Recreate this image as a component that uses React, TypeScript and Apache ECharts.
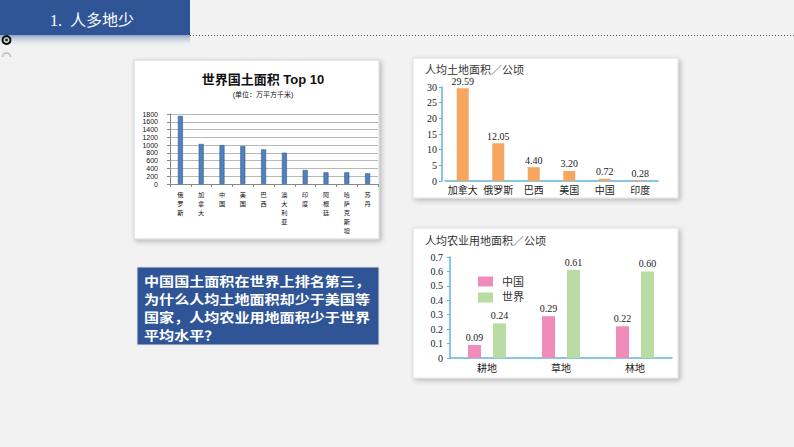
import React, { useEffect, useRef } from 'react';
import * as echarts from 'echarts';

const areaCountries = ['俄罗斯', '加拿大', '中国', '美国', '巴西', '澳大利亚', '印度', '阿根廷', '哈萨克斯坦', '苏丹'];
const areaValues = [1750, 1030, 1000, 975, 890, 805, 360, 300, 300, 275];
const areaTicks = { min: 0, max: 1800, interval: 200 };

const perCapitaCountries = ['加拿大', '俄罗斯', '巴西', '美国', '中国', '印度'];
const perCapitaValues = [29.59, 12.05, 4.4, 3.2, 0.72, 0.28];
const perCapitaTicks = { min: 0, max: 30, interval: 5 };

const landTypes = ['耕地', '草地', '林地'];
const chinaValues = [0.09, 0.29, 0.22];
const worldValues = [0.24, 0.61, 0.6];
const agriTicks = { min: 0, max: 0.7, interval: 0.1 };

const questionLines = [
  '中国国土面积在世界上排名第三，',
  '为什么人均土地面积却少于美国等',
  '国家，人均农业用地面积少于世界',
  '平均水平？',
];

const SERIF = '"Liberation Serif", "DejaVu Serif", "Noto Sans CJK SC", serif';
const SANS = '"Liberation Sans", "Noto Sans CJK SC", sans-serif';
const BLUE = '#2f5597';
const AXIS_BLUE = '#62b4d8';

export default function App() {
  const ref = useRef<HTMLDivElement>(null);
  useEffect(() => {
    const chart = echarts.init(ref.current!, null, { renderer: 'svg' });
    const panelShadow = { shadowBlur: 5, shadowColor: 'rgba(0,0,0,0.25)', shadowOffsetX: 2, shadowOffsetY: 2 };
    const graphic: any[] = [
      { type: 'rect', z: -10, shape: { x: 0, y: 0, width: 190, height: 35 }, style: { fill: BLUE } },
      {
        type: 'rect', z: -10, shape: { x: 0, y: 35, width: 190, height: 12 },
        style: {
          fill: new echarts.graphic.LinearGradient(0, 0, 0, 1, [
            { offset: 0, color: 'rgba(47,85,151,0.5)' },
            { offset: 1, color: 'rgba(242,242,242,0)' },
          ]),
        },
      },
      {
        type: 'text', x: 50, y: 20,
        style: { text: '1.  人多地少', fill: '#ffffff', fontSize: 16, fontFamily: SERIF, verticalAlign: 'middle' },
      },
      { type: 'line', shape: { x1: 190, y1: 35.5, x2: 794, y2: 35.5 }, style: { stroke: '#555', lineWidth: 1, lineDash: [1, 2] } },
      { type: 'circle', shape: { cx: 6.5, cy: 40, r: 4 }, style: { fill: 'none', stroke: '#111', lineWidth: 2 } },
      { type: 'circle', shape: { cx: 6.5, cy: 40, r: 1.3 }, style: { fill: '#111' } },
      { type: 'arc', shape: { cx: 6.5, cy: 57, r: 4, startAngle: Math.PI, endAngle: Math.PI * 2 }, style: { fill: 'none', stroke: '#bbb', lineWidth: 1.5 } },
      // panels
      { type: 'rect', z: -5, shape: { x: 134, y: 60, width: 245, height: 179 }, style: { fill: '#fff', stroke: '#d4d4d4', lineWidth: 1, ...panelShadow } },
      { type: 'rect', z: -5, shape: { x: 413, y: 58, width: 265, height: 140 }, style: { fill: '#fff', stroke: '#e0e0e0', lineWidth: 1, ...panelShadow } },
      { type: 'rect', z: -5, shape: { x: 413, y: 228, width: 265, height: 150 }, style: { fill: '#fff', stroke: '#e0e0e0', lineWidth: 1, ...panelShadow } },
      // question box
      { type: 'rect', z: -5, shape: { x: 137, y: 267, width: 242, height: 78 }, style: { fill: BLUE, stroke: '#e6e6e6', lineWidth: 1 } },
      // chart titles
      {
        type: 'text', x: 263, y: 79,
        style: { text: '世界国土面积 Top 10', fill: '#111', fontSize: 13, fontWeight: 'bold', fontFamily: SANS, align: 'center', verticalAlign: 'middle' },
      },
      {
        type: 'text', x: 263, y: 94,
        style: { text: '(单位：万平方千米)', fill: '#111', fontSize: 7, fontFamily: SANS, align: 'center', verticalAlign: 'middle' },
      },
      {
        type: 'text', x: 425, y: 70,
        style: { text: '人均土地面积／公顷', fill: '#333', fontSize: 11, fontFamily: SERIF, verticalAlign: 'middle' },
      },
      {
        type: 'text', x: 425, y: 241,
        style: { text: '人均农业用地面积／公顷', fill: '#333', fontSize: 11, fontFamily: SERIF, verticalAlign: 'middle' },
      },
    ];
    questionLines.forEach((line, i) => {
      graphic.push({
        type: 'text', x: 144, y: 280 + i * 18, scaleX: 1.16,
        style: {
          text: line, fill: '#fff', fontSize: 13, fontWeight: 'bold',
          fontFamily: '"Noto Sans CJK SC", sans-serif', verticalAlign: 'middle',
        },
      });
    });

    const serifLabel = { fontFamily: SERIF, fontSize: 10, color: '#222' };

    chart.setOption({
      animation: false,
      backgroundColor: '#f2f2f2',
      graphic,
      legend: {
        data: ['中国', '世界'],
        orient: 'vertical',
        left: 473,
        top: 271,
        itemWidth: 15,
        itemHeight: 10,
        itemGap: 5,
        icon: 'rect',
        textStyle: { fontSize: 11, fontFamily: SERIF, color: '#333', padding: [0, 0, 0, 4] },
      },
      grid: [
        { left: 170, top: 114, width: 208, height: 70 },
        { left: 445, top: 87, width: 213, height: 94 },
        { left: 450, top: 257, width: 222, height: 101 },
      ],
      xAxis: [
        {
          type: 'category', gridIndex: 0, data: areaCountries,
          axisLine: { lineStyle: { color: '#888' } },
          axisTick: { show: true, length: 3, lineStyle: { color: '#888' } },
          axisLabel: {
            interval: 0, fontSize: 6.2, lineHeight: 9, color: '#111', margin: 6,
            fontFamily: '"Noto Sans CJK SC", sans-serif',
            formatter: (v: string) => v.split('').join('\n'),
          },
        },
        {
          type: 'category', gridIndex: 1, data: perCapitaCountries,
          axisLine: { lineStyle: { color: AXIS_BLUE, width: 1.5 } },
          axisTick: { show: false },
          axisLabel: { ...serifLabel, interval: 0, margin: 4 },
        },
        {
          type: 'category', gridIndex: 2, data: landTypes,
          axisLine: { lineStyle: { color: AXIS_BLUE, width: 1.5 } },
          axisTick: { show: false },
          axisLabel: { ...serifLabel, interval: 0, margin: 5 },
        },
      ],
      yAxis: [
        {
          type: 'value', gridIndex: 0, ...areaTicks,
          axisLine: { show: true, lineStyle: { color: '#888' } },
          axisTick: { show: true, length: 3, lineStyle: { color: '#888' } },
          splitLine: { lineStyle: { color: '#a6a6a6', width: 0.8 } },
          axisLabel: { fontSize: 7, color: '#111', margin: 12, fontFamily: SANS, formatter: (v: number) => String(v) },
        },
        {
          type: 'value', gridIndex: 1, ...perCapitaTicks, offset: 3,
          axisLine: { show: true, lineStyle: { color: AXIS_BLUE, width: 1.5 } },
          axisTick: { show: true, length: 3, lineStyle: { color: AXIS_BLUE } },
          splitLine: { show: false },
          axisLabel: { ...serifLabel, margin: 5 },
        },
        {
          type: 'value', gridIndex: 2, ...agriTicks,
          axisLine: { show: true, lineStyle: { color: AXIS_BLUE, width: 1.5 } },
          axisTick: { show: true, length: 3, lineStyle: { color: AXIS_BLUE } },
          splitLine: { show: false },
          axisLabel: { ...serifLabel, margin: 7, formatter: (v: number) => (v === 0 ? '0' : v.toFixed(1)) },
        },
      ],
      series: [
        {
          type: 'bar', xAxisIndex: 0, yAxisIndex: 0, data: areaValues, barWidth: 5,
          itemStyle: { color: '#4f81bd', borderColor: '#2c5a8c', borderWidth: 0.6 },
        },
        {
          type: 'bar', xAxisIndex: 1, yAxisIndex: 1, data: perCapitaValues, barWidth: 12,
          itemStyle: { color: '#f6a65f' },
          label: { show: true, position: 'top', distance: 2, ...serifLabel, formatter: (p: any) => Number(p.value).toFixed(2) },
        },
        {
          name: '中国', type: 'bar', xAxisIndex: 2, yAxisIndex: 2, data: chinaValues, barWidth: 13, barGap: '92%',
          itemStyle: { color: '#f08cba' },
          label: { show: true, position: 'top', distance: 3, ...serifLabel, formatter: (p: any) => Number(p.value).toFixed(2) },
        },
        {
          name: '世界', type: 'bar', xAxisIndex: 2, yAxisIndex: 2, data: worldValues, barWidth: 13, barGap: '92%',
          itemStyle: { color: '#b8dca3' },
          label: { show: true, position: 'top', distance: 3, ...serifLabel, formatter: (p: any) => Number(p.value).toFixed(2) },
        },
      ],
    });
    return () => chart.dispose();
  }, []);
  return (
    <div style={{ position: 'fixed', left: 0, top: 0, width: 794, height: 447, background: '#f2f2f2' }}>
      <div ref={ref} style={{ width: 794, height: 447 }} />
    </div>
  );
}
